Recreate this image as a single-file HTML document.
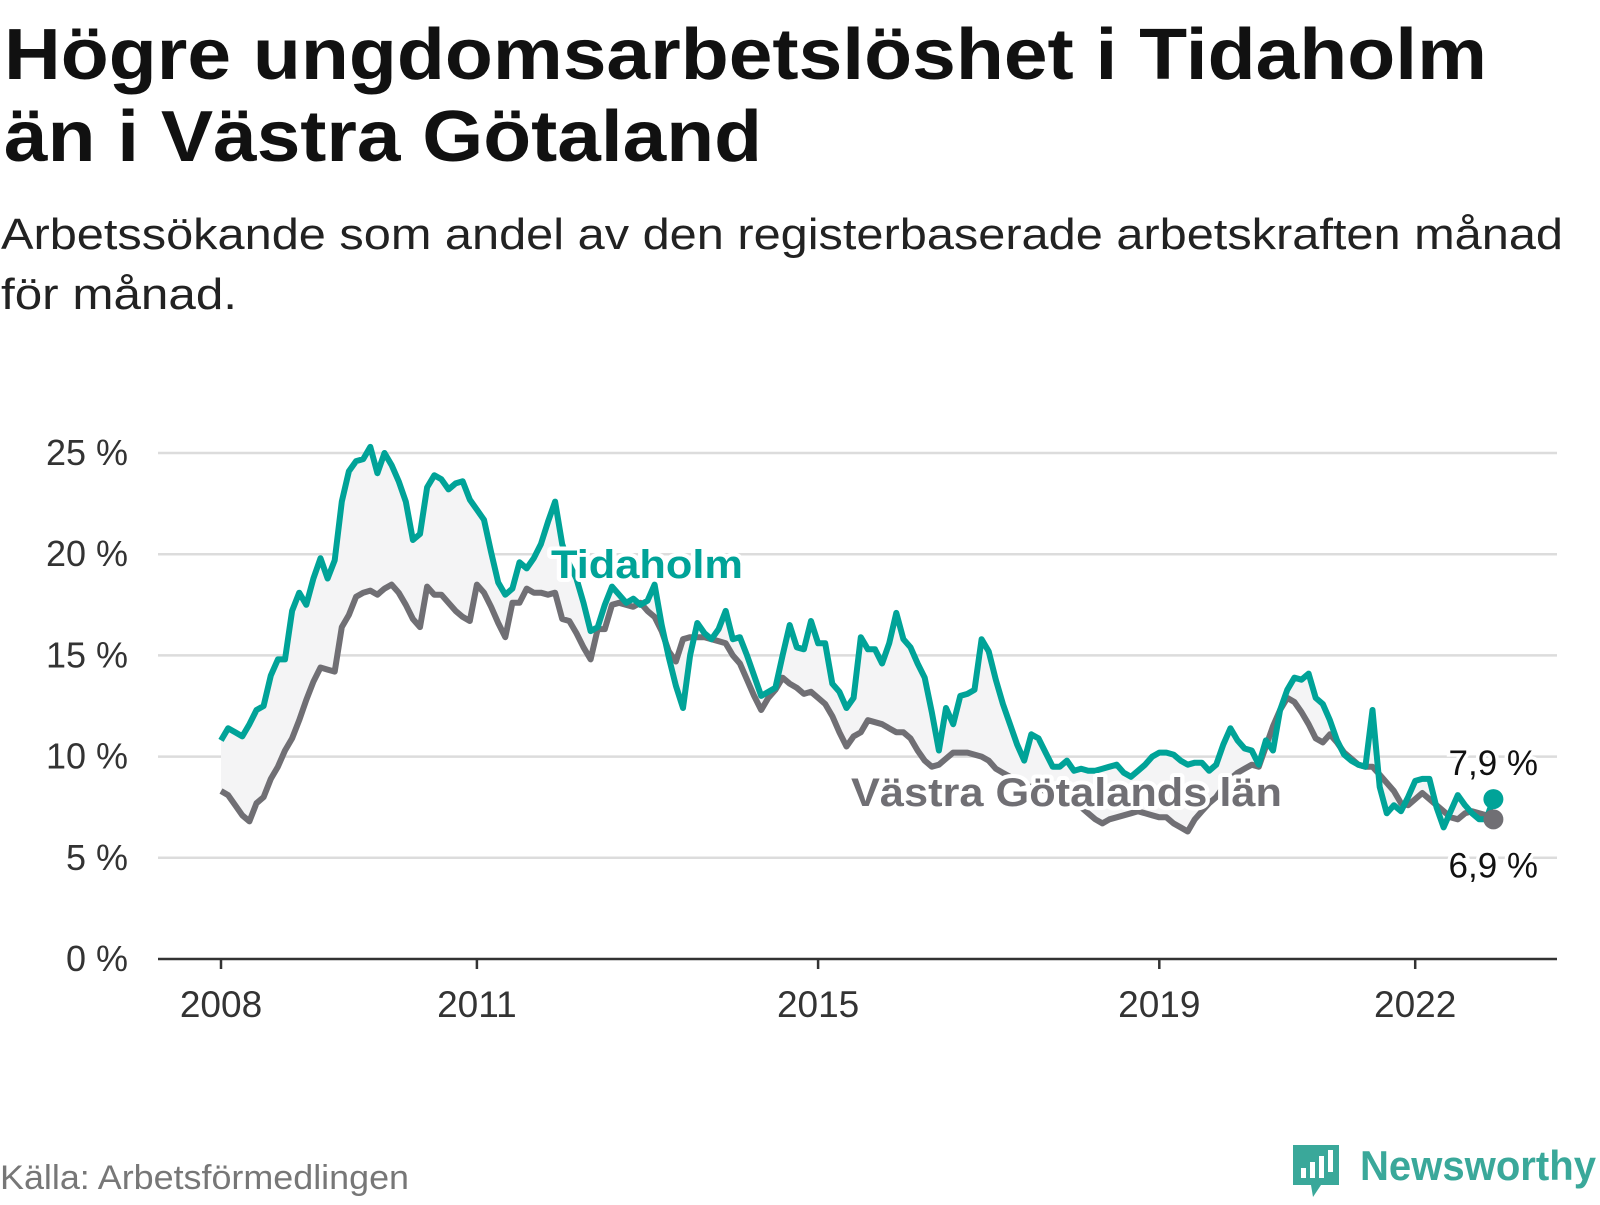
<!DOCTYPE html>
<html><head><meta charset="utf-8"><style>
html,body{margin:0;padding:0;background:#fff;}
body{width:1600px;height:1200px;overflow:hidden;font-family:"Liberation Sans",sans-serif;}
svg text{font-family:"Liberation Sans",sans-serif;}
</style></head><body>
<svg id="chart" width="1600" height="1200" viewBox="0 0 1600 1200" xmlns="http://www.w3.org/2000/svg">
<text x="4" y="79" font-size="72" font-weight="bold" fill="#111" textLength="1483" lengthAdjust="spacingAndGlyphs">Högre ungdomsarbetslöshet i Tidaholm</text>
<text x="4" y="161" font-size="72" font-weight="bold" fill="#111" textLength="758" lengthAdjust="spacingAndGlyphs">än i Västra Götaland</text>
<text x="1" y="249" font-size="44" fill="#222" textLength="1562" lengthAdjust="spacingAndGlyphs">Arbetssökande som andel av den registerbaserade arbetskraften månad</text>
<text x="1" y="309" font-size="44" fill="#222" textLength="236" lengthAdjust="spacingAndGlyphs">för månad.</text>
<g id="grid"></g>
<g id="yticks"></g>
<g id="xticks"></g>
<path id="area" fill="#f4f4f5"/>
<path id="lineV" fill="none" stroke="#706f74" stroke-width="6" stroke-linejoin="round"/>
<path id="lineT" fill="none" stroke="#00a398" stroke-width="6" stroke-linejoin="round"/>
<g id="labels"></g>
<text x="0" y="1189" font-size="34" fill="#777" textLength="409" lengthAdjust="spacingAndGlyphs">Källa: Arbetsförmedlingen</text>
<g>
<path d="M1293 1145 h46 v40 h-18 l-8 12 l-2 -12 h-18 z" fill="#3aa89a"/>
<rect x="1301" y="1168" width="5" height="10" fill="#fff"/><rect x="1310" y="1162" width="5" height="16" fill="#fff"/><rect x="1319" y="1156" width="5" height="22" fill="#fff"/><rect x="1328" y="1150" width="5" height="22" fill="#fff"/>
<text x="1360" y="1180" font-size="42" font-weight="bold" fill="#3aa89a" textLength="236" lengthAdjust="spacingAndGlyphs">Newsworthy</text>
</g>
</svg>
<script>
const tidaholm=[10.8,11.4,11.2,11.0,11.6,12.3,12.5,14.0,14.8,14.8,17.2,18.1,17.5,18.8,19.8,18.8,19.7,22.6,24.1,24.6,24.7,25.3,24.0,25.0,24.4,23.6,22.6,20.7,21.0,23.3,23.9,23.7,23.2,23.5,23.6,22.7,22.2,21.7,20.1,18.6,18.0,18.3,19.6,19.3,19.8,20.5,21.6,22.6,20.5,19.5,18.8,17.6,16.2,16.4,17.5,18.4,18.0,17.6,17.8,17.5,17.7,18.5,16.5,14.9,13.5,12.4,15.0,16.6,16.1,15.8,16.3,17.2,15.8,15.9,15.0,14.0,13.0,13.2,13.4,15.0,16.5,15.4,15.3,16.7,15.6,15.6,13.6,13.2,12.4,12.9,15.9,15.3,15.3,14.6,15.6,17.1,15.8,15.4,14.6,13.9,12.2,10.3,12.4,11.6,13.0,13.1,13.3,15.8,15.2,13.8,12.6,11.6,10.6,9.8,11.1,10.9,10.2,9.5,9.5,9.8,9.3,9.4,9.3,9.3,9.4,9.5,9.6,9.2,9.0,9.3,9.6,10.0,10.2,10.2,10.1,9.8,9.6,9.7,9.7,9.3,9.6,10.6,11.4,10.8,10.4,10.3,9.6,10.8,10.3,12.3,13.3,13.9,13.8,14.1,12.9,12.6,11.8,10.8,10.1,9.8,9.6,9.5,12.3,8.5,7.2,7.6,7.3,8.0,8.8,8.9,8.9,7.5,6.5,7.3,8.1,7.6,7.2,6.9,6.9,7.9];
const vastra=[8.3,8.1,7.6,7.1,6.8,7.7,8.0,8.9,9.5,10.3,10.9,11.8,12.8,13.7,14.4,14.3,14.2,16.4,17.0,17.9,18.1,18.2,18.0,18.3,18.5,18.1,17.5,16.8,16.4,18.4,18.0,18.0,17.6,17.2,16.9,16.7,18.5,18.1,17.4,16.6,15.9,17.6,17.6,18.3,18.1,18.1,18.0,18.1,16.8,16.7,16.1,15.4,14.8,16.3,16.3,17.5,17.6,17.5,17.4,17.6,17.2,16.9,16.2,15.2,14.7,15.8,15.9,15.9,15.9,15.8,15.7,15.6,15.0,14.6,13.8,13.0,12.3,12.9,13.3,13.9,13.6,13.4,13.1,13.2,12.9,12.6,12.0,11.2,10.5,11.0,11.2,11.8,11.7,11.6,11.4,11.2,11.2,10.9,10.3,9.8,9.5,9.6,9.9,10.2,10.2,10.2,10.1,10.0,9.8,9.4,9.2,9.0,8.8,8.6,8.5,8.4,8.3,8.2,8.1,8.0,7.8,7.5,7.2,6.9,6.7,6.9,7.0,7.1,7.2,7.3,7.2,7.1,7.0,7.0,6.7,6.5,6.3,6.9,7.3,7.7,8.0,8.5,8.9,9.2,9.4,9.6,9.5,10.5,11.5,12.3,12.9,12.7,12.2,11.6,10.9,10.7,11.1,10.7,10.2,9.9,9.6,9.5,9.5,9.1,8.7,8.3,7.7,7.6,7.9,8.2,7.9,7.6,7.3,7.0,6.9,7.2,7.3,7.2,7.1,6.9];
const startYear=2008;
const yTicks=[0,5,10,15,20,25];
const yTickLabels=["0 %","5 %","10 %","15 %","20 %","25 %"];
const xTicks=[2008,2011,2015,2019,2022];
const xTickLabels=["2008","2011","2015","2019","2022"];
const endLabels=["7,9 %","6,9 %"];

const NS="http://www.w3.org/2000/svg";
const X0=221, PXY=85.3, Y0=959, PXV=20.24;
const xYear=y=>X0+(y-startYear)*PXY;
const xIdx=i=>xYear(startYear+i/12);
const yVal=v=>Y0-v*PXV;
function mk(tag,attrs,parent,txt){const e=document.createElementNS(NS,tag);for(const k in attrs)e.setAttribute(k,attrs[k]);if(txt!==undefined)e.textContent=txt;parent.appendChild(e);return e;}

const grid=document.getElementById('grid'), yt=document.getElementById('yticks'), xt=document.getElementById('xticks');
yTicks.forEach((t,k)=>{
  if(t>0){const g=mk('line',{x1:158,x2:1557,y1:yVal(t),y2:yVal(t),stroke:'#dcdcdc','stroke-width':2.5},grid);
  
  }
  const l=mk('text',{x:128,y:yVal(t)+12,'font-size':36,'text-anchor':'end',fill:'#333'},yt,yTickLabels[k]);
  
  
});
const ax=mk('line',{x1:158,x2:1557,y1:Y0,y2:Y0,stroke:'#333','stroke-width':2.5},xt);


xTicks.forEach((t,k)=>{
  const tk=mk('line',{x1:xYear(t),x2:xYear(t),y1:Y0,y2:Y0+10,stroke:'#333','stroke-width':2.5},xt);
  
  
  const l=mk('text',{x:xYear(t),y:1017,'font-size':37,'text-anchor':'middle',fill:'#333'},xt,xTickLabels[k]);
  
  
});
const pts=a=>a.map((v,i)=>xIdx(i).toFixed(1)+','+yVal(v).toFixed(1));
const pT=pts(tidaholm), pV=pts(vastra);
document.getElementById('lineT').setAttribute('d','M'+pT.join('L'));
document.getElementById('lineV').setAttribute('d','M'+pV.join('L'));
document.getElementById('area').setAttribute('d','M'+pT.join('L')+'L'+pV.slice().reverse().join('L')+'Z');

const lab=document.getElementById('labels');
function halo(x,y,size,fill,txt,name,len){
  const t1=mk('text',{x:x,y:y,'font-size':size,'font-weight':'bold',fill:'#fff',stroke:'#fff','stroke-width':8,'stroke-linejoin':'round',textLength:len,lengthAdjust:'spacingAndGlyphs'},lab,txt);
  
  
  const t2=mk('text',{x:x,y:y,'font-size':size,'font-weight':'bold',fill:fill,textLength:len,lengthAdjust:'spacingAndGlyphs'},lab,txt);
  
  
}
halo(551,578,40,'#00a398','Tidaholm','label-tidaholm',192);
halo(851,806,40,'#706f74','Västra Götalands län','label-vastra-gotaland',431);
const last=tidaholm.length-1;
const dV=mk('circle',{cx:xIdx(last),cy:yVal(vastra[last]),r:10,fill:'#706f74'},lab);


const dT=mk('circle',{cx:xIdx(last),cy:yVal(tidaholm[last]),r:10,fill:'#00a398'},lab);


[[endLabels[0],yVal(tidaholm[last])-24],[endLabels[1],yVal(vastra[last])+58]].forEach((e,k)=>{
  const b=mk('text',{x:1538,y:e[1],'font-size':35,'text-anchor':'end',fill:'#fff',stroke:'#fff','stroke-width':7},lab,e[0]);
  
  
  const t=mk('text',{x:1538,y:e[1],'font-size':35,'text-anchor':'end',fill:'#111'},lab,e[0]);
  
  
});
</script>
</body></html>
